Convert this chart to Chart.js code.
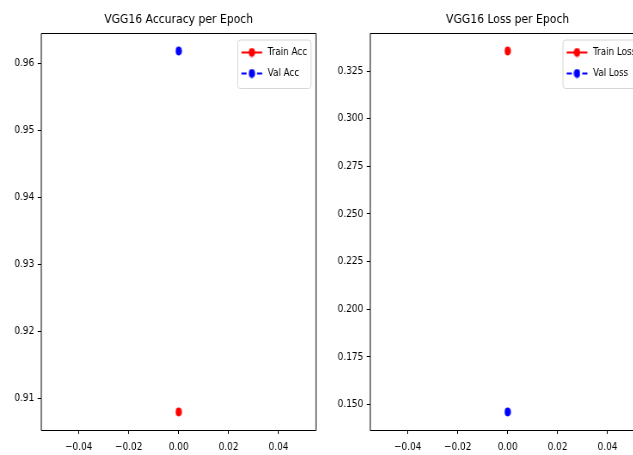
<!DOCTYPE html>
<html>
<head>
<meta charset="utf-8">
<script src="https://cdn.jsdelivr.net/npm/chart.js@4.4.1/dist/chart.umd.min.js"></script>
<style>
html,body{margin:0;padding:0;background:#fff;overflow:hidden;width:633px;height:455px;}
#wrap{position:relative;width:633px;height:455px;overflow:hidden;background:#fff;}
.panel{position:absolute;top:0;height:455px;transform-origin:0 0;transform:scaleX(0.86);}
canvas{display:block;}
</style>
</head>
<body>
<div id="wrap">
  <div class="panel" style="left:0px;"><canvas id="accChart" width="384" height="455"></canvas></div>
  <div class="panel" style="left:329.4px;"><canvas id="lossChart" width="384" height="455"></canvas></div>
</div>
<script>
// ---- data ----
const epochs = [0];
const trainAcc = [0.9080];
const valAcc = [0.9618];
const trainLoss = [0.3355];
const valLoss = [0.1461];
const xTickValues = [-0.04, -0.02, 0.00, 0.02, 0.04];
const accTickValues = [0.91, 0.92, 0.93, 0.94, 0.95, 0.96];
const lossTickValues = [0.150, 0.175, 0.200, 0.225, 0.250, 0.275, 0.300, 0.325];
const accTitle = 'VGG16 Accuracy per Epoch';
const lossTitle = 'VGG16 Loss per Epoch';
const accLabels = ['Train Acc', 'Val Acc'];
const lossLabels = ['Train Loss', 'Val Loss'];

const FONT = "'DejaVu Sans', sans-serif";
const RED = '#ff0000', BLUE = '#0000ff';

function makeMarker(color) {
  const c = document.createElement('canvas');
  c.width = 8; c.height = 10;
  const x = c.getContext('2d');
  x.fillStyle = color;
  x.beginPath();
  x.ellipse(4, 5, 3.6, 4.4, 0, 0, Math.PI * 2);
  x.fill();
  return c;
}
const redMarker = makeMarker(RED);
const blueMarker = makeMarker(BLUE);

function padRange(arrs) {
  const all = [].concat(...arrs);
  const mn = Math.min(...all), mx = Math.max(...all);
  const m = (mx - mn) * 0.05;
  return [mn - m, mx + m];
}

function fmtMinus(v, d) {
  const s = Math.abs(v).toFixed(d);
  return (v < -1e-12 ? '\u2212' : '') + s;
}

function mplPlugin(title, items) {
  return {
    id: 'mpl',
    afterDraw(chart) {
      const { ctx, chartArea: a } = chart;
      ctx.save();
      // frame (all four spines)
      ctx.strokeStyle = '#000';
      ctx.lineWidth = 1;
      const t = Math.floor(a.top) + 0.5, b = Math.floor(a.bottom) + 0.5;
      ctx.beginPath();
      ctx.moveTo(a.left, t); ctx.lineTo(a.right, t);
      ctx.moveTo(a.left, b); ctx.lineTo(a.right, b);
      ctx.moveTo(a.left, t); ctx.lineTo(a.left, b);
      ctx.moveTo(a.right, t); ctx.lineTo(a.right, b);
      ctx.stroke();
      // title
      ctx.fillStyle = '#000';
      ctx.font = '12.6px ' + FONT;
      ctx.textAlign = 'center';
      ctx.textBaseline = 'alphabetic';
      ctx.fillText(title, (a.left + a.right) / 2, 23);
      // legend
      ctx.font = '10.2px ' + FONT;
      let tw = 0;
      items.forEach(it => { tw = Math.max(tw, ctx.measureText(it.label).width); });
      const bw = 35 + tw + 4.5, bh = 48.5;
      const bx = a.right - 5.8 - bw, by = a.top + 7;
      const r = 3;
      ctx.beginPath();
      ctx.moveTo(bx + r, by);
      ctx.lineTo(bx + bw - r, by); ctx.quadraticCurveTo(bx + bw, by, bx + bw, by + r);
      ctx.lineTo(bx + bw, by + bh - r); ctx.quadraticCurveTo(bx + bw, by + bh, bx + bw - r, by + bh);
      ctx.lineTo(bx + r, by + bh); ctx.quadraticCurveTo(bx, by + bh, bx, by + bh - r);
      ctx.lineTo(bx, by + r); ctx.quadraticCurveTo(bx, by, bx + r, by);
      ctx.closePath();
      ctx.fillStyle = 'rgba(255,255,255,0.8)';
      ctx.fill();
      ctx.strokeStyle = '#d6d6d6';
      ctx.lineWidth = 1;
      ctx.stroke();
      items.forEach((it, i) => {
        const y = by + 12.5 + i * 21;
        const x0 = bx + 4.3, x1 = bx + 28.4, xm = (x0 + x1) / 2;
        ctx.strokeStyle = it.color;
        ctx.lineWidth = 2;
        ctx.setLineDash(it.dash ? [6, 12.1] : []);
        ctx.beginPath(); ctx.moveTo(x0, y); ctx.lineTo(x1, y); ctx.stroke();
        ctx.setLineDash([]);
        const mk = it.marker;
        ctx.drawImage(mk, xm - mk.width / 2, y - mk.height / 2);
        ctx.fillStyle = '#000';
        ctx.textAlign = 'left';
        ctx.textBaseline = 'middle';
        ctx.fillText(it.label, bx + 34.9, y);
      });
      ctx.restore();
    }
  };
}

function makeChart(id, trainArr, valArr, labels, yTicks, decimals, title) {
  const [ymin, ymax] = padRange([trainArr, valArr]);
  const tickFont = { family: FONT, size: 10.4 };
  return new Chart(document.getElementById(id), {
    type: 'line',
    data: {
      datasets: [
        { label: labels[0], data: epochs.map((e, i) => ({ x: e, y: trainArr[i] })),
          borderColor: RED, backgroundColor: RED, borderWidth: 1.5, showLine: false,
          pointStyle: redMarker, pointRadius: 4 },
        { label: labels[1], data: epochs.map((e, i) => ({ x: e, y: valArr[i] })),
          borderColor: BLUE, backgroundColor: BLUE, borderWidth: 1.5, borderDash: [6, 3], showLine: false,
          pointStyle: blueMarker, pointRadius: 4 }
      ]
    },
    options: {
      responsive: false,
      animation: false,
      events: [],
      layout: { padding: { top: 33, right: 16.6, bottom: 0, left: 0 } },
      plugins: { legend: { display: false }, tooltip: { enabled: false }, title: { display: false } },
      scales: {
        x: {
          type: 'linear', min: -0.055, max: 0.055,
          afterBuildTicks: s => { s.ticks = xTickValues.map(v => ({ value: v })); },
          afterFit: s => { s.height = 25; },
          border: { display: false },
          grid: { drawOnChartArea: false, drawTicks: true, tickLength: 4, color: '#000', tickColor: '#000', tickWidth: 1 },
          ticks: { font: tickFont, color: '#000', padding: 7, maxRotation: 0, autoSkip: false,
                   callback: v => fmtMinus(v, 2) }
        },
        y: {
          type: 'linear', min: ymin, max: ymax,
          afterBuildTicks: s => { s.ticks = yTicks.map(v => ({ value: v })); },
          afterFit: s => { s.width = 48; },
          border: { display: false },
          grid: { drawOnChartArea: false, drawTicks: true, tickLength: 4.2, color: '#000', tickColor: '#000', tickWidth: 1 },
          ticks: { font: tickFont, color: '#000', padding: 4, autoSkip: false,
                   callback: v => fmtMinus(v, decimals) }
        }
      }
    },
    plugins: [mplPlugin(title, [
      { label: labels[0], color: RED, dash: false, marker: redMarker },
      { label: labels[1], color: BLUE, dash: true, marker: blueMarker }
    ])]
  });
}

makeChart('accChart', trainAcc, valAcc, accLabels, accTickValues, 2, accTitle);
makeChart('lossChart', trainLoss, valLoss, lossLabels, lossTickValues, 3, lossTitle);
</script>
</body>
</html>
